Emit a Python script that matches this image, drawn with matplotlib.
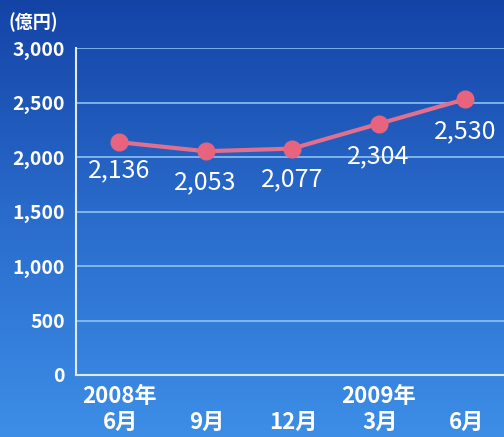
import numpy as np
import matplotlib
matplotlib.use("Agg")
import matplotlib.pyplot as plt
from matplotlib.colors import LinearSegmentedColormap

plt.rcParams["font.family"] = ["Noto Sans CJK JP", "DejaVu Sans"]

# data
years = ["2008年", "", "", "2009年", ""]
months = ["6月", "9月", "12月", "3月", "6月"]
values = [2136, 2053, 2077, 2304, 2530]
yticks = [0, 500, 1000, 1500, 2000, 2500, 3000]

W, H = 504, 437
fig = plt.figure(figsize=(W / 100, H / 100), dpi=100)

# gradient background
bg = fig.add_axes([0, 0, 1, 1])
bg.axis("off")
cmap = LinearSegmentedColormap.from_list("bg", ["#1443a6", "#2a6ccc", "#3d8ee6"])
grad = np.linspace(0, 1, 256).reshape(-1, 1)
bg.imshow(grad, aspect="auto", cmap=cmap, extent=[0, 1, 0, 1], origin="upper")
bg.set_xlim(0, 1)
bg.set_ylim(0, 1)

left, right = 76 / W, 1.0
bottom, top = 1 - 375 / H, 1 - 48 / H
ax = fig.add_axes([left, bottom, right - left, top - bottom])
ax.patch.set_alpha(0)

x = np.arange(len(values))
ax.set_xlim(-0.497, 4.45)
ax.set_ylim(0, 3000)

for yv in yticks[1:]:
    ax.axhline(yv, color="#8cc2f2", lw=1.2, zorder=1)

ax.plot(x, values, color="#e0708e", lw=3, marker="o", ms=12,
        mfc="#e8647e", mec="#e8647e", zorder=3, clip_on=False)

offsets = [-20, -22, -22, -23, -23]
for xi, v, off in zip(x, values, offsets):
    ax.annotate(f"{v:,}", (xi, v), xytext=(0, off), textcoords="offset points",
                ha="center", va="center", color="white", fontsize=18)

for s in ["top", "right"]:
    ax.spines[s].set_visible(False)
for s in ["left", "bottom"]:
    ax.spines[s].set_color("#dcecff")
    ax.spines[s].set_linewidth(1.5)

ax.set_yticks(yticks)
ax.set_yticklabels([f"{v:,}" for v in yticks], color="white", fontsize=14,
                   fontweight="bold")
ax.tick_params(axis="y", length=0, pad=8)
ax.set_xticks([])

for xi, yr, mo in zip(x, years, months):
    if yr:
        ax.text(xi, -200, yr, ha="center", va="center", color="white",
                fontsize=16, fontweight="bold")
    ax.text(xi + 0.02, -431, mo, ha="center", va="center", color="white",
            fontsize=16, fontweight="bold")

fig.text(8 / W, 1 - 22 / H, "(億円)", ha="left", va="center", color="white",
         fontsize=13, fontweight="bold")

fig.savefig("out.png", dpi=100)
